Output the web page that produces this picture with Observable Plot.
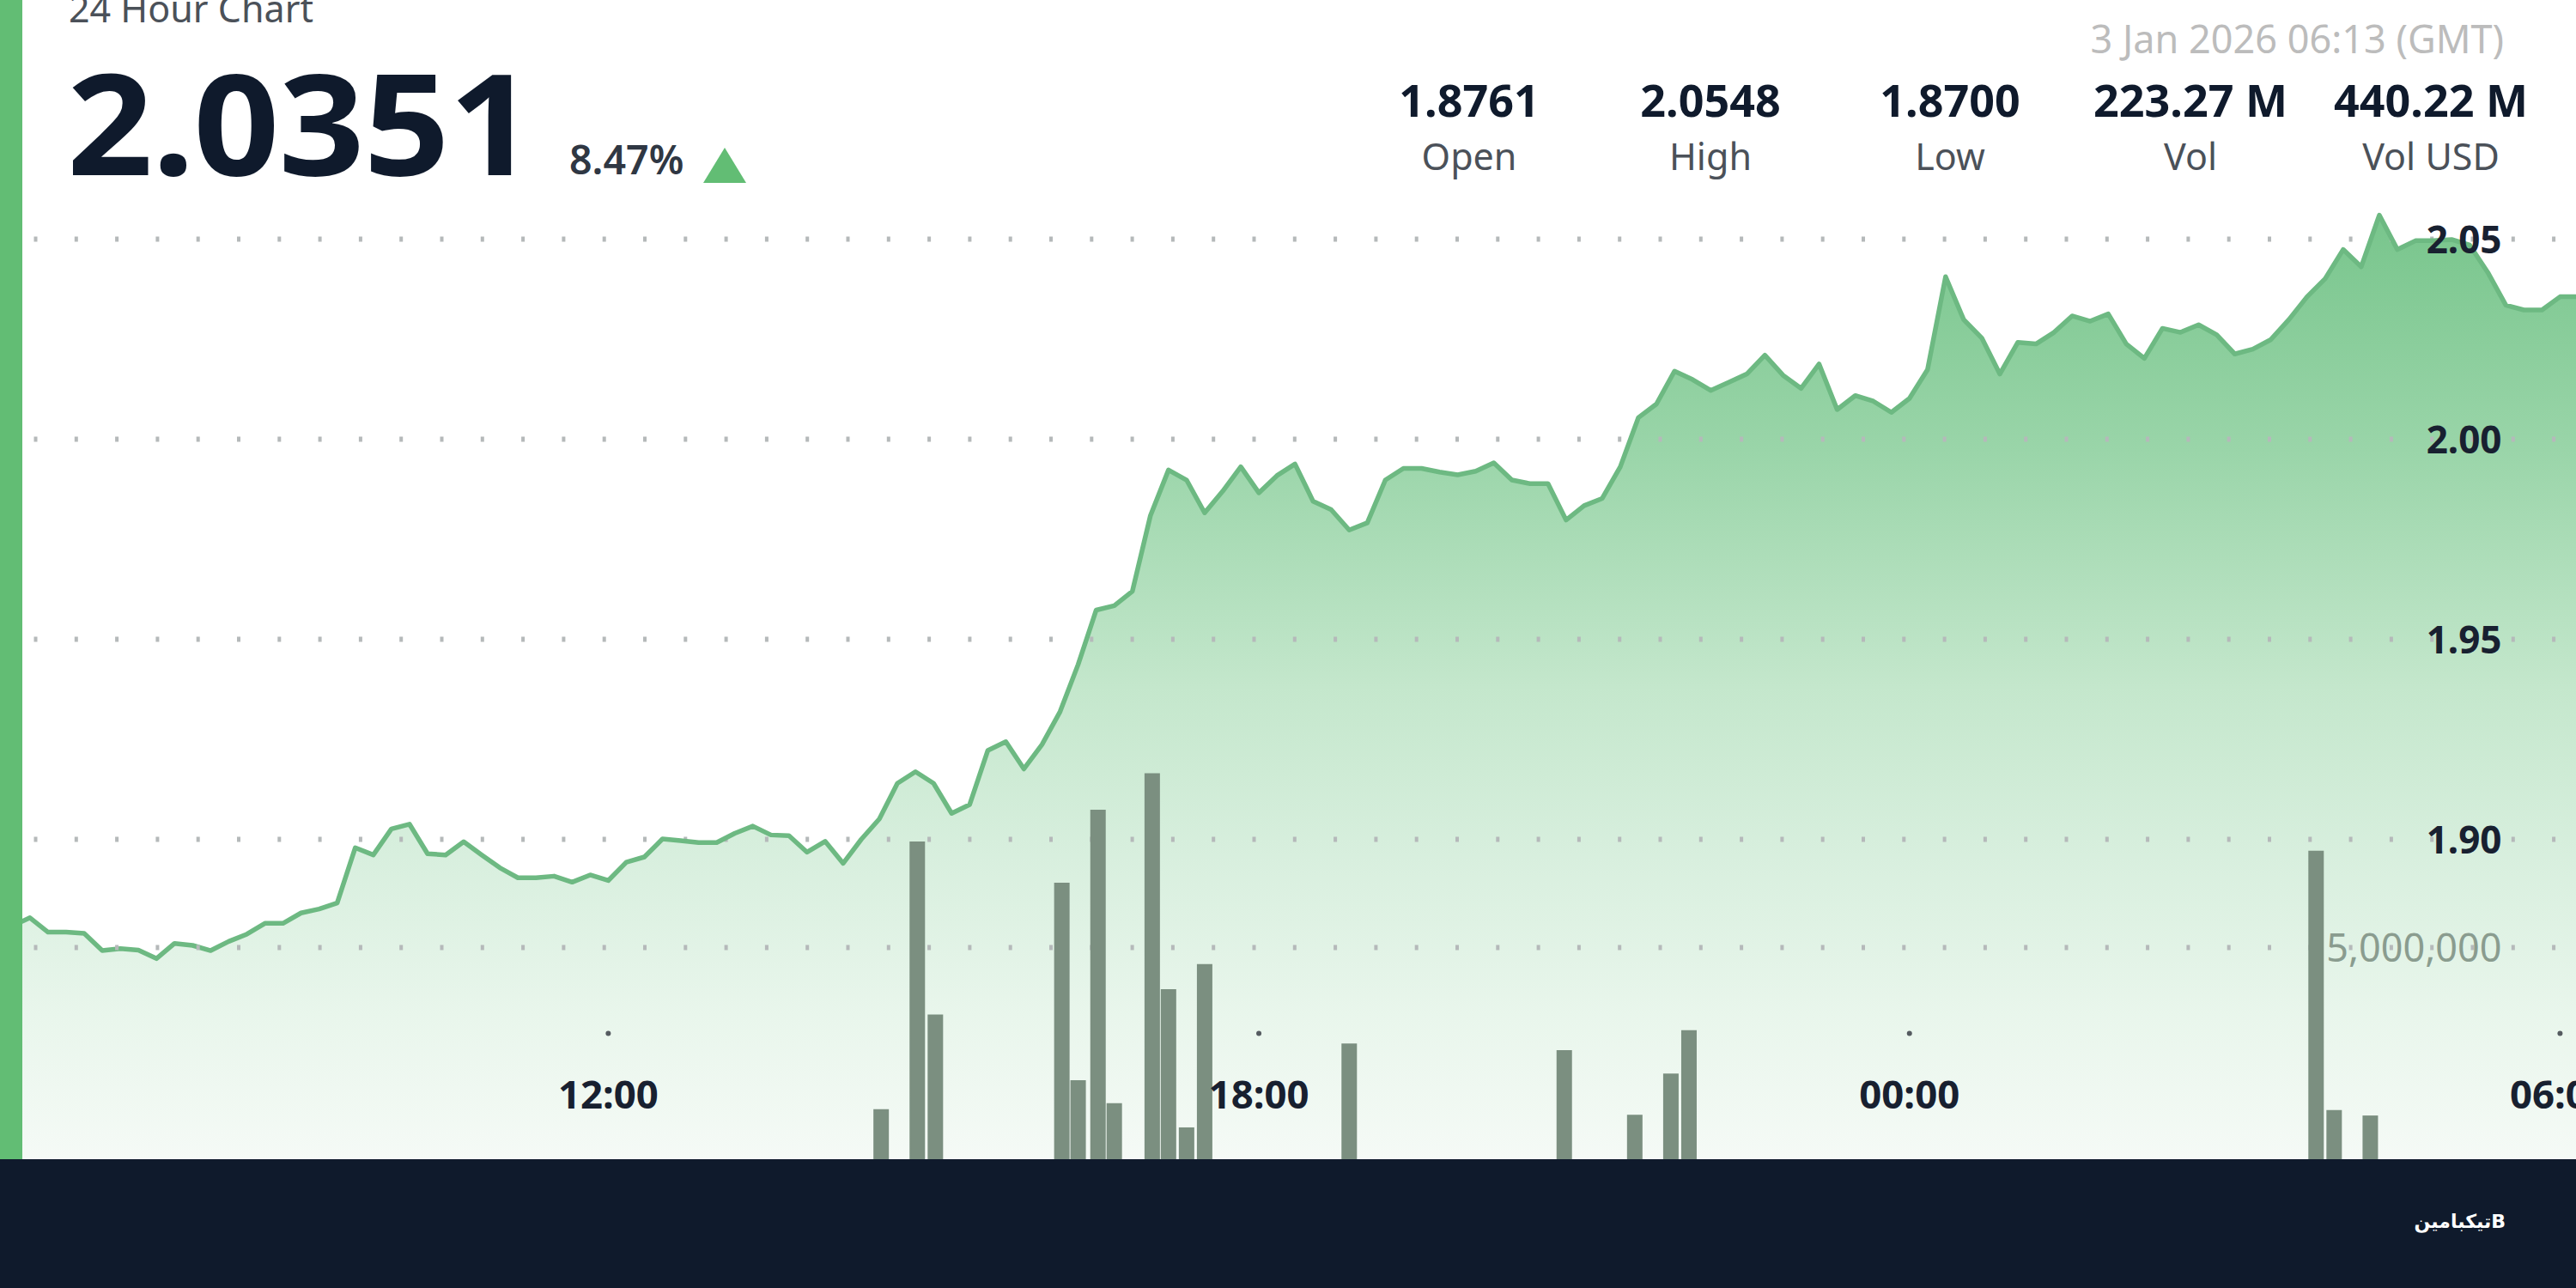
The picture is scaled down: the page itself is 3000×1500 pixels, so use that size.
<!DOCTYPE html>
<html>
<head>
<meta charset="utf-8">
<script src="https://cdn.jsdelivr.net/npm/d3@7"></script>
<script src="https://cdn.jsdelivr.net/npm/@observablehq/plot@0.6"></script>
<style>
html,body{margin:0;padding:0;background:#fff;width:3000px;height:1500px;overflow:hidden;font-family:"Noto Sans",sans-serif;}
#stage{position:relative;width:3000px;height:1500px;overflow:hidden;}
#stage svg{position:absolute;left:0;top:0;background:transparent;max-width:none;}
.abs{position:absolute;white-space:nowrap;line-height:1;}
#edge{left:0;top:0;width:26px;height:1350px;background:#62bd74;}
#foot{left:0;top:1350px;width:3000px;height:150px;background:#0f1a2c;}
#logo{left:2815px;width:103px;top:1410px;color:#fff;font:700 22px "DejaVu Sans";direction:rtl;text-align:right;}
#title{left:80px;top:-12px;font-size:43px;color:#4b5159;}
#price{left:78px;top:60px;font-size:163px;font-weight:700;color:#0f1a2c;letter-spacing:-1px;transform:scaleX(1.075);transform-origin:left center;}
#chg{left:663px;top:162px;font-size:46.5px;font-weight:600;color:#2f3743;}
#tri{left:819px;top:172px;width:0;height:0;border-left:25px solid transparent;border-right:25px solid transparent;border-bottom:41px solid #62bd74;}
#date{right:84px;top:22px;font-size:45px;color:#bcbcbc;}
.val{font-size:52px;font-weight:700;color:#0f1a2c;top:90px;transform:translateX(-50%);}
.lab{font-size:43px;color:#4b5159;top:160px;transform:translateX(-50%);}
</style>
</head>
<body>
<div id="stage"></div>
<script>
// ---- header text ----
const chartTitle = "24 Hour Chart";
const lastPrice = "2.0351";
const changeText = "8.47%";
const stampText = "3 Jan 2026 06:13 (GMT)";
const statValues = ["1.8761", "2.0548", "1.8700", "223.27 M", "440.22 M"];
const statLabels = ["Open", "High", "Low", "Vol", "Vol USD"];
const statCentres = [1711, 1992, 2271, 2551, 2831];
const footerBrand = "تیکبامین";

// ---- series: one price every 10 minutes from 2 Jan 2026 06:30 GMT ----
const seriesStart = "2026-01-02T06:30:00Z";
const stepMinutes = 10;
const prices = [
  1.8783,1.8804,1.8768,1.8768,1.8765,1.8722,1.8727,1.8723,1.8702,1.8740,1.8735,1.8722,
  1.8745,1.8763,1.8790,1.8790,1.8816,1.8826,1.8841,1.8979,1.8961,1.9026,1.9038,1.8964,
  1.8961,1.8994,1.8961,1.8929,1.8904,1.8904,1.8908,1.8893,1.8911,1.8897,1.8943,1.8956,
  1.9001,1.8997,1.8992,1.8992,1.9015,1.9033,1.9011,1.9009,1.8968,1.8995,1.8940,1.9000,
  1.9051,1.9140,1.9169,1.9140,1.9065,1.9087,1.9222,1.9244,1.9176,1.9237,1.9319,1.9437,
  1.9573,1.9584,1.9620,1.9809,1.9923,1.9898,1.9816,1.9870,1.9931,1.9866,1.9909,1.9938,
  1.9845,1.9824,1.9773,1.9791,1.9898,1.9927,1.9927,1.9918,1.9911,1.9920,1.9941,1.9898,
  1.9889,1.9889,1.9798,1.9834,1.9852,1.9931,2.0054,2.0088,2.0170,2.0149,2.0122,2.0142,
  2.0163,2.0210,2.0160,2.0127,2.0188,2.0074,2.0109,2.0095,2.0067,2.0102,2.0174,2.0406,
  2.0299,2.0253,2.0163,2.0242,2.0238,2.0267,2.0308,2.0295,2.0313,2.0238,2.0202,2.0277,
  2.0267,2.0286,2.0261,2.0213,2.0225,2.0249,2.0299,2.0356,2.0401,2.0474,2.0431,2.0560,
  2.0474,2.0496,2.0496,2.0499,2.0485,2.0417,2.0335,2.0323,2.0323,2.0356,2.0356
];
const volumeTimes = [
  "2026-01-02T14:31Z","2026-01-02T14:51Z","2026-01-02T15:01Z","2026-01-02T16:11Z","2026-01-02T16:20Z",
  "2026-01-02T16:31Z","2026-01-02T16:40Z","2026-01-02T17:01Z","2026-01-02T17:10Z","2026-01-02T17:20Z",
  "2026-01-02T17:30Z","2026-01-02T18:50Z","2026-01-02T20:49Z","2026-01-02T21:28Z","2026-01-02T21:48Z",
  "2026-01-02T21:58Z","2026-01-03T03:45Z","2026-01-03T03:55Z","2026-01-03T04:15Z"
];
const volumes = [
  1180000,7490000,3410000,6520000,1860000,8240000,1320000,9100000,4010000,750000,
  4600000,2730000,2570000,1050000,2020000,3040000,7270000,1160000,1030000
];
const priceTicks = [1.90, 1.95, 2.00, 2.05];
const volumeTicks = [5000000];
const timeTicks = ["2026-01-02T12:00Z","2026-01-02T18:00Z","2026-01-03T00:00Z","2026-01-03T06:00Z"];
const areaFloor = 1.82;

// ---- tables ----
const t0 = new Date(seriesStart).getTime();
const priceRows = prices.map((p, i) => ({time: new Date(t0 + i * stepMinutes * 60000), price: p}));
const volumeRows = volumeTimes.map((t, i) => ({time: new Date(t), volume: volumes[i]}));
const tickDates = timeTicks.map(t => new Date(t));

const W = 3000, H = 1350;
const xScale = {type: "utc", domain: [new Date("2026-01-02T06:23:40Z"), new Date("2026-01-03T06:09:04Z")], range: [0, W]};
const fontStyle = {fontFamily: '"Noto Sans", sans-serif', background: "transparent"};

function gradientDefs() {
  const defs = d3.create("svg:defs");
  const g = defs.append("linearGradient").attr("id", "priceFill")
    .attr("x1", 0).attr("x2", 0).attr("y1", 0).attr("y2", 1);
  [[0, "#78c58c"], [0.25, "#9ad5a9"], [0.5, "#c4e7cc"], [0.68, "#d8efde"], [0.85, "#e9f6ec"], [1, "#f5faf6"]]
    .forEach(([o, c]) => g.append("stop").attr("offset", o).attr("stop-color", c));
  return defs.node();
}

const pricePlot = Plot.plot({
  width: W, height: H,
  marginLeft: 0, marginRight: 0, marginTop: 0, marginBottom: 0,
  style: fontStyle,
  x: {...xScale, axis: null},
  y: {domain: [2.05, 1.90], range: [278, 977], axis: null},
  marks: [
    gradientDefs,
    Plot.areaY(priceRows, {x: "time", y1: areaFloor, y2: "price", fill: "url(#priceFill)"}),
    Plot.ruleY(priceTicks, {stroke: "#b5b9ba", strokeWidth: 6, strokeDasharray: "4 43.3", strokeDashoffset: 7.8}),
    Plot.line(priceRows, {x: "time", y: "price", stroke: "#6db982", strokeWidth: 5.5, strokeLinejoin: "round"}),
    Plot.text(priceTicks, {y: d => d, text: d => d.toFixed(2), frameAnchor: "right", dx: -87, dy: 2, textAnchor: "end",
      fontSize: 44, fontWeight: 700, fill: "#182030"})
  ]
});

const volumePlot = Plot.plot({
  width: W, height: H,
  marginLeft: 0, marginRight: 0, marginTop: 0, marginBottom: 147,
  style: fontStyle,
  x: xScale,
  y: {domain: [0, 10000000], range: [H, 856], axis: null},
  marks: [
    Plot.ruleY(volumeTicks, {stroke: "#b5b9ba", strokeWidth: 6, strokeDasharray: "4 43.3", strokeDashoffset: 7.8}),
    Plot.ruleX(volumeRows, {x: "time", y1: 0, y2: "volume", stroke: "#7b8f80", strokeWidth: 18}),
    Plot.dot(tickDates, {x: d => d, frameAnchor: "bottom", r: 3, fill: "#555b60"}),
    Plot.axisX({ticks: tickDates, tickSize: 0, tickPadding: 55, anchor: "bottom", label: null,
      tickFormat: d3.utcFormat("%H:%M"), fontSize: 45.5, fontWeight: 700, fill: "#182030"}),
    Plot.text(volumeTicks, {y: d => d, text: d => d3.format(",")(d), frameAnchor: "right", dy: 2, dx: -87, textAnchor: "end",
      fontSize: 45, fill: "#8a9c8f"})
  ]
});

const stage = document.getElementById("stage");
stage.append(pricePlot, volumePlot);

function addDiv(id, cls, text, left) {
  const d = document.createElement("div");
  if (id) d.id = id;
  d.className = "abs " + (cls || "");
  if (text) d.textContent = text;
  if (left !== undefined) d.style.left = left + "px";
  stage.append(d);
}
addDiv("edge"); addDiv("foot");
addDiv("logo", "", "B" + footerBrand);
addDiv("title", "", chartTitle);
addDiv("price", "", lastPrice);
addDiv("chg", "", changeText);
addDiv("tri");
addDiv("date", "", stampText);
statValues.forEach((v, i) => addDiv(null, "val", v, statCentres[i]));
statLabels.forEach((v, i) => addDiv(null, "lab", v, statCentres[i]));
</script>
</body>
</html>
